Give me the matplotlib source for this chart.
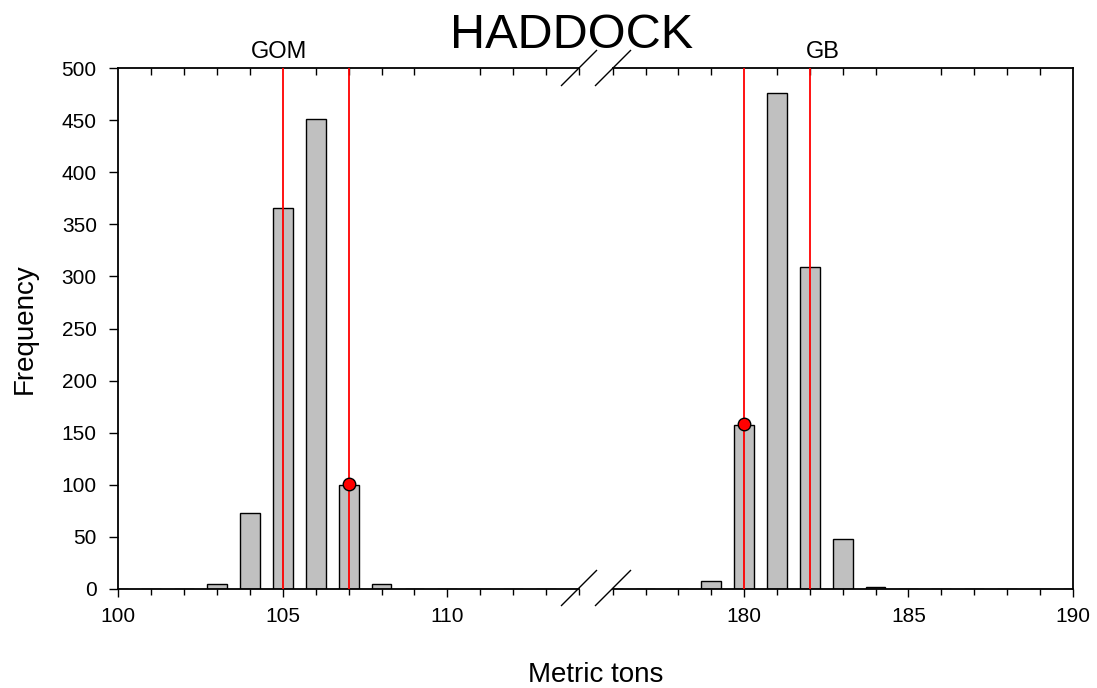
import numpy as np
import matplotlib.pyplot as plt
from matplotlib.lines import Line2D
from matplotlib.ticker import MultipleLocator

plt.rcParams['font.family'] = ['Liberation Sans', 'DejaVu Sans']

# --- DATA ---
gom_tons = np.arange(100, 115)
gom_freq = [0, 0, 0, 5, 73, 366, 451, 100, 5, 0, 0, 0, 0, 0, 0]
gb_tons = np.arange(176, 191)
gb_freq = [0, 0, 0, 8, 157, 476, 309, 48, 2, 0, 0, 0, 0, 0, 0]

gom_lines = [105, 107]
gb_lines = [180, 182]
gom_point = (107, 101)
gb_point = (180, 158)

W, H = 1097, 688
fig = plt.figure(figsize=(W / 100, H / 100), dpi=100)

bottom = 1 - 589 / H
height = (589 - 68) / H
ax1 = fig.add_axes([118.3 / W, bottom, (579 - 118.3) / W, height])
ax2 = fig.add_axes([612.7 / W, bottom, (1072.7 - 612.7) / W, height])

for ax, x, y, lines, pt, lim in [
        (ax1, gom_tons, gom_freq, gom_lines, gom_point, (100, 114)),
        (ax2, gb_tons, gb_freq, gb_lines, gb_point, (176, 190))]:
    ax.bar(x, y, width=0.6, color='#c0c0c0', edgecolor='black', linewidth=1, zorder=2)
    for xl in lines:
        ax.axvline(xl, color='red', linewidth=1.3, zorder=3)
    ax.plot(*pt, 'o', color='red', markeredgecolor='black', markersize=9,
            markeredgewidth=1, zorder=4, clip_on=False)
    ax.set_xlim(*lim)
    ax.set_ylim(0, 500)
    ax.xaxis.set_major_locator(MultipleLocator(5))
    ax.xaxis.set_minor_locator(MultipleLocator(1))
    ax.tick_params(axis='x', which='major', direction='out', length=6, width=1,
                   labelsize=15, top=False, pad=7)
    ax.tick_params(axis='x', which='minor', direction='out', length=4, width=1,
                   top=False)
    # inward minor ticks along the top edge
    sec = ax.secondary_xaxis('top')
    sec.xaxis.set_major_locator(MultipleLocator(5))
    sec.xaxis.set_minor_locator(MultipleLocator(1))
    sec.tick_params(which='major', length=0, labeltop=False)
    sec.tick_params(which='minor', direction='in', length=5, width=1)
    sec.spines['top'].set_visible(False)
    for s in ax.spines.values():
        s.set_linewidth(1.3)

# left axis: y ticks, no right spine
ax1.spines['right'].set_visible(False)
ax1.yaxis.set_major_locator(MultipleLocator(50))
ax1.tick_params(axis='y', direction='out', length=6.5, width=1, labelsize=15, pad=9)
ax1.set_xticks([100, 105, 110])

# right axis: no y ticks, no left spine
ax2.spines['left'].set_visible(False)
ax2.tick_params(axis='y', left=False, labelleft=False)
ax2.set_xticks([180, 185, 190])

# break marks
for xc in [579, 613]:
    for yc in [588, 68]:
        fig.add_artist(Line2D([(xc - 17.5) / W, (xc + 17.5) / W],
                              [1 - (yc + 17.5) / H, 1 - (yc - 17.5) / H],
                              color='black', linewidth=1))

ax1.text(104.9, 505, 'GOM', ha='center', va='bottom', fontsize=17)
ax2.text(182.4, 505, 'GB', ha='center', va='bottom', fontsize=17)

fig.text(572 / W, 1 - 35 / H, 'HADDOCK', ha='center', va='center', fontsize=35)
fig.text(596 / W, 1 - 675 / H, 'Metric tons', ha='center', va='center', fontsize=20)
fig.text(25 / W, 1 - 329 / H, 'Frequency', ha='center', va='center', fontsize=20,
         rotation=90)

fig.savefig('out.png', dpi=100)
